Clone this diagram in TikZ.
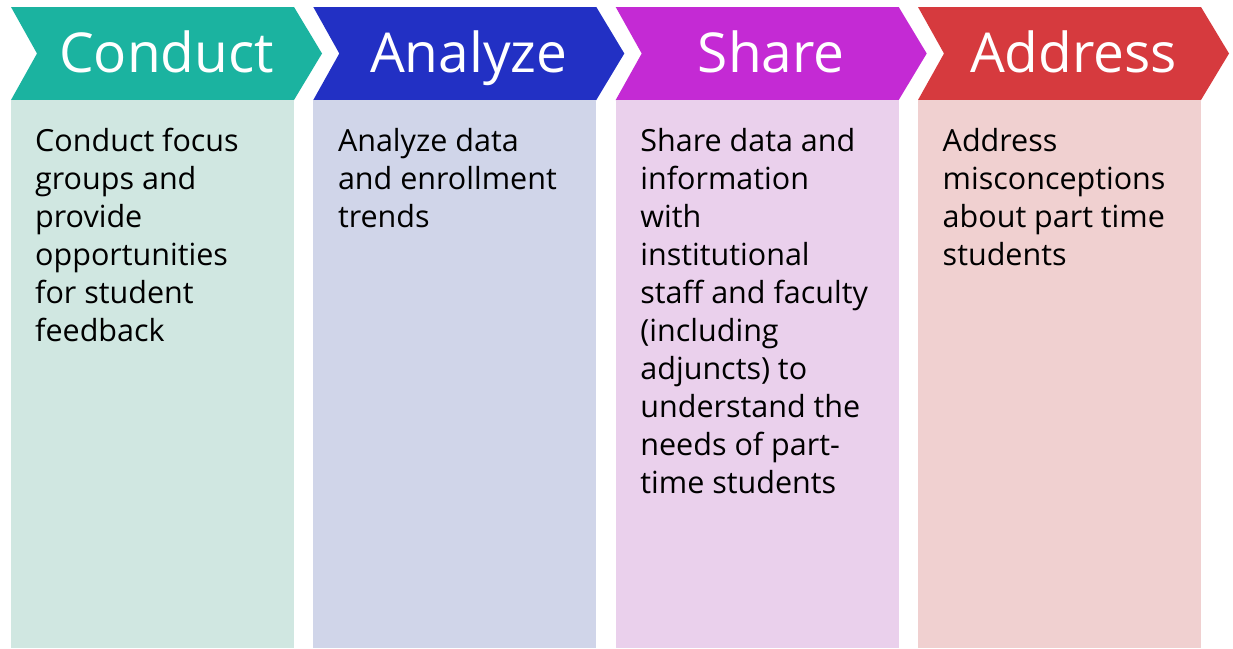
\documentclass[tikz,border=0pt]{standalone}
\usepackage{fontspec}
\setmainfont{Open Sans}
\definecolor{cTeal}{RGB}{27,179,160}
\definecolor{lTeal}{RGB}{208,231,225}
\definecolor{cBlue}{RGB}{34,48,196}
\definecolor{lBlue}{RGB}{208,213,233}
\definecolor{cMag}{RGB}{196,42,212}
\definecolor{lMag}{RGB}{234,208,236}
\definecolor{cRed}{RGB}{214,58,62}
\definecolor{lRed}{RGB}{240,208,208}
\tikzset{
  titletext/.style={text=white, inner sep=0pt, anchor=base, font=\fontsize{55}{60}\selectfont},
  bodytext/.style={text=black, inner sep=0pt, anchor=base west},
}
\newcommand{\bodyfmt}[1]{\parbox[t]{270pt}{\fontsize{30.5}{38}\selectfont\raggedright #1}}
\begin{document}
\begin{tikzpicture}[x=1pt,y=-1pt]
\useasboundingbox (0,0) rectangle (1233,648);
\fill[white] (0,0) rectangle (1233,648);
% column lefts: 11, 313.3, 615.7, 918
\foreach \L/\dark/\light in {11/cTeal/lTeal, 313.3/cBlue/lBlue, 615.7/cMag/lMag, 918/cRed/lRed}{
  \fill[\dark] (\L,7) -- ({\L+283},7) -- ({\L+311},53.5) -- ({\L+283},100) -- (\L,100) -- ({\L+26},53.5) -- cycle;
  \fill[\light] (\L,100) rectangle ({\L+283},648);
}
\node[titletext] (t1) at (166.5,72) {Conduct};
\node[titletext] (t2) at (468.8,72) {Analyze};
\node[titletext] (t3) at (771.2,72) {Share};
\node[titletext] (t4) at (1073.5,72) {Address};
\node[bodytext] (b1) at (35,151) {\bodyfmt{Conduct focus\\groups and\\provide\\opportunities\\for student\\feedback}};
\node[bodytext] (b2) at (337.8,151) {\bodyfmt{Analyze data\\and enrollment\\trends}};
\node[bodytext] (b3) at (640.2,151) {\bodyfmt{Share data and\\information\\with\\institutional\\staff and faculty\\(including\\adjuncts) to\\understand the\\needs of part-\\time students}};
\node[bodytext] (b4) at (942.5,151) {\bodyfmt{Address\\misconceptions\\about part time\\students}};
\end{tikzpicture}
\end{document}
